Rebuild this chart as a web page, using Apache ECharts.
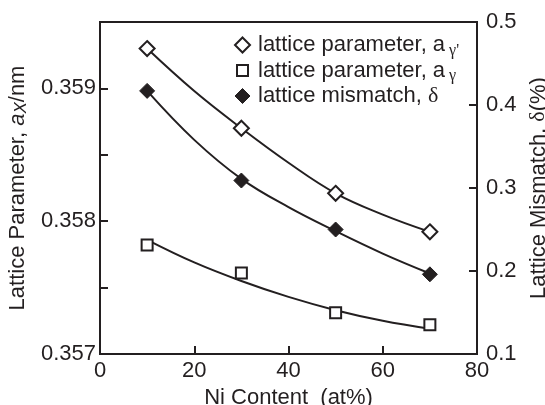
<!DOCTYPE html>
<html>
<head>
<meta charset="utf-8">
<script src="https://cdn.jsdelivr.net/npm/echarts@6/dist/echarts.min.js"></script>
<style>
  html, body { margin: 0; padding: 0; background: #fff; }
  #chart { width: 545px; height: 405px; }
</style>
</head>
<body>
<div id="chart"></div>
<script>
// measured points
var niContent = [10, 30, 50, 70]
var aGammaPrime = [0.3593, 0.3587, 0.35821, 0.35792]
var aGamma = [0.35782, 0.35761, 0.35731, 0.35722]
var mismatch = [0.417, 0.309, 0.250, 0.196]

// fitted curves
var fitX = [10, 20, 30, 40, 50, 60, 70]
var fitGammaPrime = [0.3593, 0.35898, 0.3587, 0.35844, 0.35821, 0.35805, 0.35792]
var fitGamma = [0.35786, 0.35769, 0.35755, 0.35743, 0.35733, 0.35725, 0.35719]
var fitMismatch = [0.417, 0.358, 0.311, 0.277, 0.248, 0.221, 0.197]

var xTicks = { min: 0, max: 80, interval: 20 }
var leftTicks = { min: 0.357, max: 0.3595, interval: 0.0005 }
var rightTicks = { min: 0.1, max: 0.5, interval: 0.1 }

var legendNames = ["lattice parameter, a\u03b3'", 'lattice parameter, a\u03b3', 'lattice mismatch, \u03b4']

var ink = '#231f20'
var font = 'Liberation Sans'

function pairs(xs, ys) {
  return xs.map(function (x, i) { return [x, ys[i]] })
}

var chart = echarts.init(document.getElementById('chart'))

var openStyle = { color: '#fff', borderColor: ink, borderWidth: 2, opacity: 1 }
var fillStyle = { color: ink, borderColor: ink, borderWidth: 1, opacity: 1 }

// small square centred in a 15x15 box, so the legend icon keeps its size
var smallSquare = 'path://M0,0M15,15M2,2h11v11h-11z'

var subRich = {
  sub: { fontSize: 16, fontFamily: 'Liberation Serif', padding: [11, 0, 0, 4], color: ink },
  d: { fontSize: 22, fontFamily: 'Liberation Serif', color: ink },
  i: { fontSize: 22, fontStyle: 'italic', color: ink, fontFamily: font },
  x: { fontSize: 17, fontStyle: 'italic', color: ink, fontFamily: font, padding: [8, 0, 0, 0] }
}

var option = {
  animation: false,
  textStyle: { fontFamily: font, color: ink },
  grid: {
    left: 100, right: 68, top: 22, bottom: 51,
    show: true, borderColor: ink, borderWidth: 2,
    outerBoundsMode: 'none'
  },
  legend: {
    orient: 'vertical',
    left: 229,
    top: 29,
    itemWidth: 15,
    itemHeight: 15,
    itemGap: 1,
    textStyle: { fontSize: 22, color: ink, fontFamily: font, rich: subRich, padding: [0, 0, 0, 3] },
    formatter: function (name) {
      if (name === legendNames[0]) return "lattice parameter, a{sub|\u03b3'}"
      if (name === legendNames[1]) return 'lattice parameter, a{sub|\u03b3}'
      return 'lattice mismatch, {d|\u03b4}'
    },
    data: [
      { name: legendNames[0], icon: 'diamond', itemStyle: openStyle },
      { name: legendNames[1], icon: smallSquare, itemStyle: openStyle },
      { name: legendNames[2], icon: 'diamond', itemStyle: fillStyle }
    ]
  },
  xAxis: {
    type: 'value',
    min: xTicks.min, max: xTicks.max, interval: xTicks.interval,
    name: 'Ni Content  (at%)',
    nameLocation: 'middle',
    nameGap: 31,
    nameTextStyle: { fontSize: 22, color: ink },
    axisLine: { lineStyle: { color: ink, width: 2 } },
    axisTick: { inside: true, length: 8, lineStyle: { color: ink, width: 2 } },
    axisLabel: { fontSize: 22, color: ink, margin: 6 },
    splitLine: { show: false }
  },
  yAxis: [
    {
      type: 'value',
      position: 'left',
      min: leftTicks.min, max: leftTicks.max, interval: leftTicks.interval,
      name: 'Lattice Parameter, {i|a}{x|X}/nm',
      nameLocation: 'middle',
      nameRotate: 90,
      nameGap: 62,
      nameTextStyle: { fontSize: 22, color: ink, rich: subRich },
      axisLine: { show: true, lineStyle: { color: ink, width: 2 } },
      axisTick: { show: true, inside: true, length: 8, lineStyle: { color: ink, width: 2 } },
      axisLabel: {
        fontSize: 22, color: ink, margin: 4,
        formatter: function (v) {
          var k = Math.round(v * 10000)
          return k % 10 === 0 ? v.toFixed(3) : ''
        }
      },
      splitLine: { show: false }
    },
    {
      type: 'value',
      position: 'right',
      min: rightTicks.min, max: rightTicks.max, interval: rightTicks.interval,
      name: 'Lattice Mismatch, {d|\u03b4}(%)',
      nameLocation: 'middle',
      nameRotate: 90,
      nameGap: 44,
      nameTextStyle: { fontSize: 22, color: ink, rich: subRich },
      axisLine: { show: true, lineStyle: { color: ink, width: 2 } },
      axisTick: { show: true, inside: true, length: 8, lineStyle: { color: ink, width: 2 } },
      axisLabel: {
        fontSize: 22, color: ink, margin: 9,
        formatter: function (v) { return v.toFixed(1) }
      },
      splitLine: { show: false }
    }
  ],
  series: [
    {
      type: 'line', name: 'fitGammaPrime', data: pairs(fitX, fitGammaPrime),
      smooth: 0.4, showSymbol: false, symbol: 'none',
      lineStyle: { color: ink, width: 2 }, z: 2
    },
    {
      type: 'line', name: 'fitGamma', data: pairs(fitX, fitGamma),
      smooth: 0.4, showSymbol: false, symbol: 'none',
      lineStyle: { color: ink, width: 2 }, z: 2
    },
    {
      type: 'line', name: 'fitMismatch', yAxisIndex: 1, data: pairs(fitX, fitMismatch),
      smooth: 0.4, showSymbol: false, symbol: 'none',
      lineStyle: { color: ink, width: 2 }, z: 2
    },
    {
      type: 'scatter', name: legendNames[0], data: pairs(niContent, aGammaPrime),
      symbol: 'diamond', symbolSize: 15, itemStyle: openStyle, z: 5
    },
    {
      type: 'scatter', name: legendNames[1], data: pairs(niContent, aGamma),
      symbol: 'rect', symbolSize: 11, itemStyle: openStyle, z: 5
    },
    {
      type: 'scatter', name: legendNames[2], yAxisIndex: 1, data: pairs(niContent, mismatch),
      symbol: 'diamond', symbolSize: 15, itemStyle: fillStyle, z: 5
    }
  ]
}

chart.setOption(option)
</script>
</body>
</html>
